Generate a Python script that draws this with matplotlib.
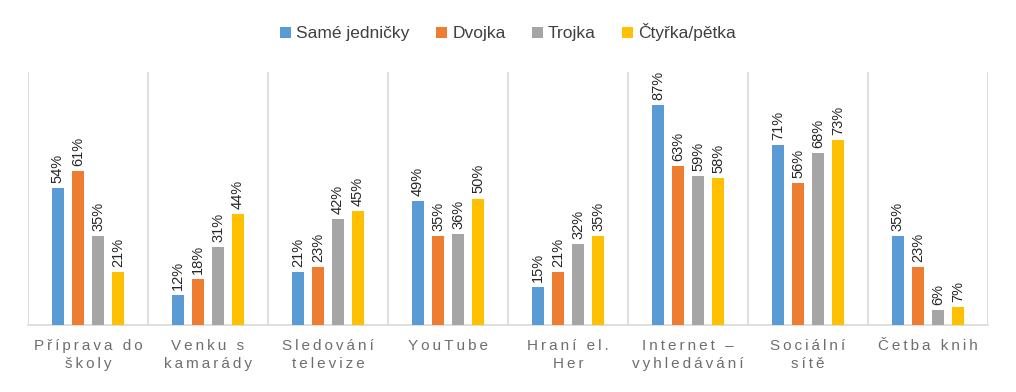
import matplotlib.pyplot as plt
import numpy as np

plt.rcParams['font.family'] = ['Liberation Sans', 'DejaVu Sans']

categories = ['Příprava do\nškoly', 'Venku s\nkamarády', 'Sledování\ntelevize',
              'YouTube', 'Hraní el.\nHer', 'Internet –\nvyhledávání',
              'Sociální\nsítě', 'Četba knih']
series_names = ['Samé jedničky', 'Dvojka', 'Trojka', 'Čtyřka/pětka']
jednicky = [54, 12, 21, 49, 15, 87, 71, 35]
dvojka = [61, 18, 23, 35, 21, 63, 56, 23]
trojka = [35, 31, 42, 36, 32, 59, 68, 6]
ctyrka = [21, 44, 45, 50, 35, 58, 73, 7]
colors = ['#5b9bd5', '#ed7d31', '#a5a5a5', '#ffc000']


def spaced(text):
    # Widen the letter spacing like the original axis labels
    return '\n'.join('\u2009'.join(line) for line in text.split('\n'))


fig = plt.figure(figsize=(10.16, 3.92), dpi=100)
ax = fig.add_axes([28 / 1016, 67 / 392, 960 / 1016, 253 / 392])

x = np.arange(len(categories))
width = 0.105
step = 0.167
for i, (vals, name) in enumerate(zip([jednicky, dvojka, trojka, ctyrka], series_names)):
    pos = x + (i - 1.5) * step
    ax.bar(pos, vals, width, color=colors[i], label=name, zorder=3)
    for p, v in zip(pos, vals):
        ax.text(p, v + 2, f'{v}%', rotation=90, ha='center', va='bottom',
                fontsize=10.5, color='#262626')

ax.set_xlim(-0.5, len(categories) - 0.5)
ax.set_ylim(0, 100)
ax.set_yticks([])
ax.set_xticks(x)
ax.set_xticklabels([spaced(c) for c in categories], fontsize=11, color='#6e6e6e',
                   linespacing=1.35)
ax.tick_params(axis='x', length=0, pad=10)

# Vertical separators between categories
for b in np.arange(-0.5, len(categories), 1):
    ax.axvline(b, color='#d9d9d9', lw=1.2, zorder=1)
for s in ['top', 'right', 'left']:
    ax.spines[s].set_visible(False)
ax.spines['bottom'].set_color('#d9d9d9')
ax.spines['bottom'].set_linewidth(1.2)

fig.legend(loc='upper center', bbox_to_anchor=(0.5, 0.98), ncol=4, frameon=False,
           fontsize=12.5, handlelength=0.65, handleheight=0.65, handletextpad=0.3,
           columnspacing=1.5, labelcolor='#404040')

fig.savefig('out.png', dpi=100)
